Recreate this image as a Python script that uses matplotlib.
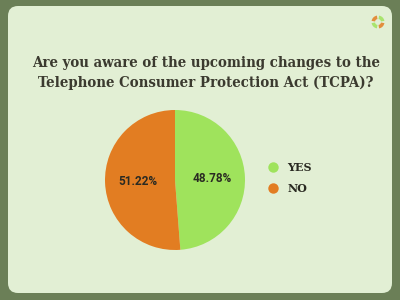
import matplotlib
matplotlib.use("Agg")
import matplotlib.pyplot as plt
import numpy as np
from matplotlib.patches import FancyBboxPatch, Wedge
from matplotlib.lines import Line2D

# survey answers
answers = ["YES", "NO"]
shares = [48.78, 51.22]
colors = ["#9fe35c", "#e27d22"]

title = "Are you aware of the upcoming changes to the\nTelephone Consumer Protection Act (TCPA)?"

BORDER = "#6b7f57"
PANEL = "#e2efd4"
INK = "#3b3a2f"

fig = plt.figure(figsize=(4, 3), dpi=100)
fig.patch.set_facecolor(BORDER)

# background panel in pixel coords
bg = fig.add_axes([0, 0, 1, 1])
bg.set_xlim(0, 400)
bg.set_ylim(300, 0)
bg.axis("off")
bg.add_patch(FancyBboxPatch((18, 16), 364, 267,
                            boxstyle="round,pad=10,rounding_size=10",
                            facecolor=PANEL, edgecolor="none"))

# small logo, top right
for i, c in enumerate(["#e27d22", "#9fe35c", "#e27d22", "#9fe35c"]):
    bg.add_patch(Wedge((378, 22), 6.5, 90 * i + 10, 90 * i + 80, width=3.5,
                       facecolor=c, edgecolor="none", alpha=0.85))

bg.text(206, 73, title, ha="center", va="center", fontsize=10.7,
        fontweight="bold", family="DejaVu Serif", fontstretch="condensed",
        color=INK, linespacing=1.45)

# pie
ax = fig.add_axes([105 / 400, 50 / 300, 140 / 400, 140 / 300])
wedges, texts = ax.pie(shares, colors=colors, startangle=90, counterclock=False,
                       wedgeprops=dict(linewidth=0))
for w, s in zip(wedges, shares):
    ang = np.deg2rad((w.theta1 + w.theta2) / 2)
    ax.text(0.53 * np.cos(ang), 0.53 * np.sin(ang), f"{s:.2f}%",
            ha="center", va="center", fontsize=8.5, fontweight="bold",
            family="Roboto", color="#2a2a22")
ax.set_xlim(-1, 1)
ax.set_ylim(-1, 1)
ax.set_aspect("equal")

handles = [Line2D([], [], marker="o", linestyle="none", markersize=7.5,
                  markerfacecolor=c, markeredgecolor="none") for c in colors]
leg = fig.legend(handles, answers, loc="center left", bbox_to_anchor=(252 / 400, 1 - 178 / 300),
                 frameon=False, handletextpad=0.3, labelspacing=0.9,
                 prop=dict(family="DejaVu Serif", weight="bold", size=8))
for t in leg.get_texts():
    t.set_color("#2a2a22")

fig.savefig("out.png", dpi=100, facecolor=BORDER)
